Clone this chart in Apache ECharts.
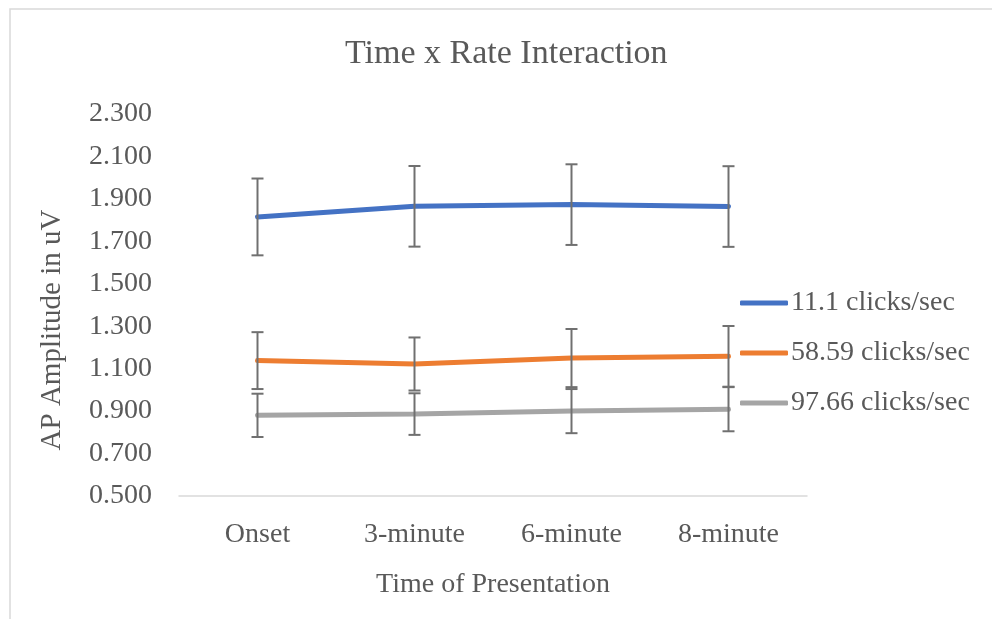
<!DOCTYPE html>
<html>
<head>
<meta charset="utf-8">
<script src="https://cdn.jsdelivr.net/npm/echarts@6/dist/echarts.min.js"></script>
<style>
  html, body { margin: 0; padding: 0; background: #ffffff; }
  #chart { width: 992px; height: 619px; }
</style>
</head>
<body>
<div id="chart"></div>
<script>
// Time of presentation (x categories)
const categories = ['Onset', '3-minute', '6-minute', '8-minute'];

// Mean AP amplitude (uV) per stimulation rate
const rate111 = [1.815, 1.865, 1.873, 1.864];
const rate5859 = [1.138, 1.122, 1.150, 1.158];
const rate9766 = [0.880, 0.886, 0.900, 0.909];

// Symmetric error (± uV) per point
const err111 = [0.181, 0.190, 0.190, 0.190];
const err5859 = [0.134, 0.125, 0.137, 0.143];
const err9766 = [0.102, 0.098, 0.104, 0.104];

// Series names and y-axis ticks
const seriesNames = ['11.1 clicks/sec', '58.59 clicks/sec', '97.66 clicks/sec'];
const yMin = 0.5, yMax = 2.3, yStep = 0.2;

const FONT = '"Liberation Serif", "Times New Roman", serif';
const TEXT = '#595959';
const colors = ['#4472C4', '#ED7D31', '#A5A5A5'];

function errorData(means, errs) {
  return means.map((m, i) => [i, m - errs[i], m + errs[i]]);
}

function renderErrorBar(params, api) {
  const x = api.value(0);
  const lo = api.coord([x, api.value(1)]);
  const hi = api.coord([x, api.value(2)]);
  const half = 6;
  const style = { stroke: '#707070', lineWidth: 2 };
  return {
    type: 'group',
    children: [
      { type: 'line', shape: { x1: hi[0], y1: hi[1], x2: lo[0], y2: lo[1] }, style },
      { type: 'line', shape: { x1: hi[0] - half, y1: hi[1], x2: hi[0] + half, y2: hi[1] }, style },
      { type: 'line', shape: { x1: lo[0] - half, y1: lo[1], x2: lo[0] + half, y2: lo[1] }, style }
    ]
  };
}

const lineSets = [rate111, rate5859, rate9766];
const errSets = [err111, err5859, err9766];

const series = [];
lineSets.forEach((vals, k) => {
  series.push({
    name: seriesNames[k],
    type: 'line',
    data: vals,
    symbol: 'none',
    smooth: false,
    lineStyle: { width: 5, color: colors[k], cap: 'round' },
    itemStyle: { color: colors[k] },
    z: 2
  });
});
errSets.forEach((errs, k) => {
  series.push({
    type: 'custom',
    renderItem: renderErrorBar,
    data: errorData(lineSets[k], errs),
    encode: { x: 0, y: [1, 2] },
    z: 3,
    silent: true
  });
});

const chart = echarts.init(document.getElementById('chart'), null, { renderer: 'canvas' });
chart.setOption({
  animation: false,
  backgroundColor: '#ffffff',
  textStyle: { fontFamily: FONT },
  title: {
    text: 'Time x Rate Interaction',
    left: 340,
    top: 32,
    textStyle: { fontFamily: FONT, fontSize: 34, fontWeight: 'normal', color: TEXT }
  },
  graphic: [{
    type: 'rect',
    shape: { x: 10, y: 9, width: 1000, height: 700 },
    style: { fill: 'none', stroke: '#d9d9d9', lineWidth: 1.5 },
    silent: true,
    z: -10
  }, {
    type: 'text',
    x: 52,
    y: 330,
    rotation: Math.PI / 2,
    style: {
      text: 'AP Amplitude in uV',
      font: '29px "Liberation Serif", "Times New Roman", serif',
      fill: TEXT,
      align: 'center',
      verticalAlign: 'middle'
    },
    silent: true
  }],
  legend: {
    orient: 'vertical',
    left: 740,
    top: 288,
    padding: 0,
    icon: 'roundRect',
    itemWidth: 48,
    itemHeight: 5,
    itemGap: 20,
    data: seriesNames.map((n, k) => ({ name: n, itemStyle: { color: colors[k] } })),
    textStyle: { fontFamily: FONT, fontSize: 28, color: TEXT, lineHeight: 30, padding: [0, 0, 0, -2] }
  },
  grid: { left: 179, right: 185, top: 114, bottom: 123, containLabel: false },
  xAxis: {
    type: 'category',
    data: categories,
    boundaryGap: true,
    name: 'Time of Presentation',
    nameLocation: 'middle',
    nameGap: 75,
    nameTextStyle: { fontFamily: FONT, fontSize: 28, color: TEXT },
    axisLine: { lineStyle: { color: '#d9d9d9', width: 1.5 } },
    axisTick: { show: false },
    axisLabel: { fontFamily: FONT, fontSize: 28, color: TEXT, margin: 25 },
    splitLine: { show: false }
  },
  yAxis: {
    type: 'value',
    min: yMin,
    max: yMax,
    interval: yStep,
    axisLine: { show: false },
    axisTick: { show: false },
    splitLine: { show: false },
    axisLabel: {
      fontFamily: FONT, fontSize: 28, color: TEXT, margin: 27,
      formatter: v => v.toFixed(3)
    }
  },
  series
});
</script>
</body>
</html>
